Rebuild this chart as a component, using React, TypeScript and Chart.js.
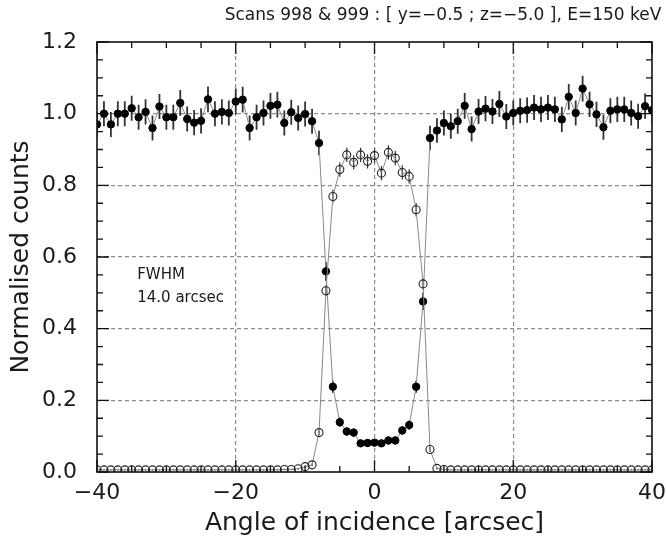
import React, { useEffect, useRef } from 'react';
import { Chart, registerables } from 'chart.js';

Chart.register(...registerables);

// ---------------- data ----------------
const angles = [
  -40, -39, -38, -37, -36, -35, -34, -33, -32, -31,
  -30, -29, -28, -27, -26, -25, -24, -23, -22, -21,
  -20, -19, -18, -17, -16, -15, -14, -13, -12, -11,
  -10, -9, -8, -7, -6, -5, -4, -3, -2, -1,
  0, 1, 2, 3, 4, 5, 6, 7, 8, 9,
  10, 11, 12, 13, 14, 15, 16, 17, 18, 19,
  20, 21, 22, 23, 24, 25, 26, 27, 28, 29,
  30, 31, 32, 33, 34, 35, 36, 37, 38, 39, 40,
];

// filled circles (scan 998)
const filledCounts = [
  0.97, 1.0, 0.97, 1.0, 1.0, 1.015, 0.99, 1.005, 0.96, 1.02,
  0.99, 0.99, 1.03, 0.985, 0.975, 0.98, 1.04, 1.0, 1.005, 1.002,
  1.034, 1.039, 0.96, 0.99, 1.002, 1.022, 1.025, 0.974, 1.004, 0.988,
  0.999, 0.979, 0.918, 0.56, 0.238, 0.139, 0.113, 0.11, 0.08, 0.081,
  0.082, 0.08, 0.088, 0.088, 0.116, 0.131, 0.238, 0.476, 0.932, 0.953,
  0.974, 0.965, 0.979, 1.022, 0.957, 1.006, 1.014, 1.006, 1.027, 0.992,
  1.002, 1.008, 1.01, 1.017, 1.012, 1.017, 1.012, 0.984, 1.047, 1.002,
  1.07, 1.026, 0.998, 0.962, 1.008, 1.012, 1.012, 1.002, 0.993, 1.021, 1.01,
];
const filledErr = [
  0.035, 0.035, 0.035, 0.035, 0.035, 0.035, 0.035, 0.035, 0.035, 0.035,
  0.035, 0.035, 0.036, 0.035, 0.035, 0.035, 0.036, 0.035, 0.035, 0.035,
  0.036, 0.036, 0.035, 0.035, 0.035, 0.036, 0.036, 0.035, 0.035, 0.035,
  0.035, 0.035, 0.034, 0.026, 0.017, 0.013, 0.012, 0.012, 0.01, 0.01,
  0.01, 0.01, 0.011, 0.011, 0.012, 0.013, 0.017, 0.024, 0.034, 0.034,
  0.035, 0.035, 0.035, 0.036, 0.035, 0.035, 0.035, 0.035, 0.036, 0.035,
  0.035, 0.035, 0.035, 0.035, 0.035, 0.035, 0.035, 0.035, 0.036, 0.035,
  0.036, 0.035, 0.035, 0.035, 0.035, 0.035, 0.035, 0.035, 0.035, 0.035, 0.035,
];

// open circles (scan 999)
const openCounts = [
  0.006, 0.006, 0.006, 0.006, 0.006, 0.006, 0.006, 0.006, 0.006, 0.006,
  0.006, 0.006, 0.006, 0.006, 0.006, 0.006, 0.006, 0.006, 0.006, 0.006,
  0.006, 0.006, 0.006, 0.006, 0.006, 0.006, 0.006, 0.007, 0.007, 0.009,
  0.015, 0.02, 0.11, 0.506, 0.769, 0.844, 0.885, 0.864, 0.885, 0.867,
  0.883, 0.834, 0.892, 0.876, 0.836, 0.825, 0.732, 0.525, 0.063, 0.01,
  0.007, 0.006, 0.006, 0.006, 0.006, 0.006, 0.006, 0.006, 0.006, 0.006,
  0.006, 0.006, 0.006, 0.006, 0.006, 0.006, 0.006, 0.006, 0.006, 0.006,
  0.006, 0.006, 0.006, 0.006, 0.006, 0.006, 0.006, 0.006, 0.006, 0.006, 0.006,
];
const openErr = [
  0.002, 0.002, 0.002, 0.002, 0.002, 0.002, 0.002, 0.002, 0.002, 0.002,
  0.002, 0.002, 0.002, 0.002, 0.002, 0.002, 0.002, 0.002, 0.002, 0.002,
  0.002, 0.002, 0.002, 0.002, 0.002, 0.002, 0.002, 0.002, 0.002, 0.003,
  0.004, 0.004, 0.008, 0.015, 0.019, 0.02, 0.02, 0.02, 0.02, 0.02,
  0.02, 0.02, 0.02, 0.02, 0.02, 0.02, 0.019, 0.015, 0.007, 0.003,
  0.002, 0.002, 0.002, 0.002, 0.002, 0.002, 0.002, 0.002, 0.002, 0.002,
  0.002, 0.002, 0.002, 0.002, 0.002, 0.002, 0.002, 0.002, 0.002, 0.002,
  0.002, 0.002, 0.002, 0.002, 0.002, 0.002, 0.002, 0.002, 0.002, 0.002, 0.002,
];

const xMajorTicks = [-40, -20, 0, 20, 40];
const yMajorTicks = [0.0, 0.2, 0.4, 0.6, 0.8, 1.0, 1.2];
const titleText = 'Scans 998 & 999 : [ y=\u22120.5 ; z=\u22125.0 ], E=150 keV';
const xAxisTitle = 'Angle of incidence [arcsec]';
const yAxisTitle = 'Normalised counts';
const noteLines = ['FWHM', '14.0 arcsec'];
const notePos = { x: -34.2, y: [0.55, 0.485] };

const FONT = "'DejaVu Sans', sans-serif";
const TEXT = '#1a1a1a';

const isMajorX = (v: number) => xMajorTicks.some((t) => Math.abs(t - v) < 1e-6);
const isMajorY = (v: number) => yMajorTicks.some((t) => Math.abs(t - v) < 1e-6);
const fmtNum = (v: number, d: number) => (v < 0 ? '\u2212' + Math.abs(v).toFixed(d) : v.toFixed(d));

const errorBarPlugin = {
  id: 'errorBars',
  beforeDatasetsDraw(chart: any) {
    const { ctx, chartArea, scales } = chart;
    const x = scales.x;
    const y = scales.y;
    ctx.save();
    ctx.beginPath();
    ctx.rect(chartArea.left, chartArea.top, chartArea.right - chartArea.left, chartArea.bottom - chartArea.top);
    ctx.clip();
    const draw = (vals: number[], errs: number[], color: string, w: number) => {
      ctx.strokeStyle = color;
      ctx.lineWidth = w;
      ctx.beginPath();
      angles.forEach((a, i) => {
        const px = x.getPixelForValue(a);
        ctx.moveTo(px, y.getPixelForValue(vals[i] - errs[i]));
        ctx.lineTo(px, y.getPixelForValue(vals[i] + errs[i]));
      });
      ctx.stroke();
    };
    draw(filledCounts, filledErr, '#333', 1.8);
    draw(openCounts, openErr, '#333', 1.2);
    ctx.restore();
  },
};

const framePlugin = {
  id: 'frameTicks',
  afterDatasetsDraw(chart: any) {
    const { ctx, chartArea, scales } = chart;
    const x = scales.x;
    const y = scales.y;
    const { left, right, top, bottom } = chartArea;
    ctx.save();
    ctx.strokeStyle = '#111';
    ctx.lineWidth = 1.6;
    ctx.strokeRect(left, top, right - left, bottom - top);
    ctx.lineWidth = 1.3;
    ctx.beginPath();
    for (let v = -40; v <= 40; v += 5) {
      const px = x.getPixelForValue(v);
      const len = isMajorX(v) ? 12 : 6;
      ctx.moveTo(px, bottom);
      ctx.lineTo(px, bottom - len);
      ctx.moveTo(px, top);
      ctx.lineTo(px, top + len);
    }
    for (let k = 0; k <= 24; k++) {
      const v = k * 0.05;
      const py = y.getPixelForValue(v);
      const len = k % 4 === 0 ? 12 : 6;
      ctx.moveTo(left, py);
      ctx.lineTo(left + len, py);
      ctx.moveTo(right, py);
      ctx.lineTo(right - len, py);
    }
    ctx.stroke();
    ctx.restore();
  },
};

const textPlugin = {
  id: 'texts',
  afterDraw(chart: any) {
    const { ctx, scales } = chart;
    ctx.save();
    ctx.fillStyle = TEXT;
    ctx.font = `17px ${FONT}`;
    ctx.textAlign = 'center';
    ctx.textBaseline = 'middle';
    ctx.fillText(titleText, 443, 16);
    ctx.font = `15px ${FONT}`;
    ctx.textAlign = 'left';
    noteLines.forEach((t, i) => {
      ctx.fillText(t, scales.x.getPixelForValue(notePos.x), scales.y.getPixelForValue(notePos.y[i]));
    });
    ctx.restore();
  },
};

export default function App() {
  const ref = useRef<HTMLCanvasElement | null>(null);
  useEffect(() => {
    if (!ref.current) return;
    const chart = new Chart(ref.current, {
      type: 'scatter',
      data: {
        datasets: [
          {
            label: 'open',
            data: angles.map((a, i) => ({ x: a, y: openCounts[i] })),
            showLine: true,
            borderColor: '#8a8a8a',
            borderWidth: 1,
            pointRadius: 4,
            pointBorderWidth: 1.1,
            pointBorderColor: '#222',
            pointBackgroundColor: 'rgba(255,255,255,0)',
            clip: 0,
          } as any,
          {
            label: 'filled',
            data: angles.map((a, i) => ({ x: a, y: filledCounts[i] })),
            showLine: true,
            borderColor: '#8a8a8a',
            borderWidth: 1,
            pointRadius: 3.7,
            pointBorderWidth: 1,
            pointBorderColor: '#000',
            pointBackgroundColor: '#000',
            clip: 0,
          } as any,
        ],
      },
      options: {
        responsive: false,
        animation: false,
        events: [],
        layout: { padding: { top: 42, right: 14, bottom: 0, left: 0 } },
        plugins: { legend: { display: false }, tooltip: { enabled: false }, title: { display: false } },
        scales: {
          x: {
            type: 'linear',
            min: -40,
            max: 40,
            afterFit: (s: any) => {
              s.height = 71;
              s.paddingLeft = 0;
              s.paddingRight = 0;
            },
            ticks: {
              stepSize: 5,
              autoSkip: false,
              maxRotation: 0,
              padding: 8,
              color: TEXT,
              font: { family: FONT, size: 22 },
              callback: (v: any) => (isMajorX(Number(v)) ? fmtNum(Number(v), 0) : ''),
            },
            grid: {
              drawTicks: false,
              lineWidth: 1.2,
              color: (c: any) => {
                const v = c.tick ? c.tick.value : NaN;
                return isMajorX(v) && Math.abs(v) < 39 ? '#8c8c8c' : 'rgba(0,0,0,0)';
              },
            },
            border: { display: false, dash: [4, 3] },
            title: {
              display: true,
              text: xAxisTitle,
              color: TEXT,
              font: { family: FONT, size: 25 },
              padding: { top: 0, bottom: 5 },
            },
          },
          y: {
            type: 'linear',
            min: 0,
            max: 1.2,
            afterFit: (s: any) => {
              s.width = 97;
              s.paddingTop = 0;
              s.paddingBottom = 0;
            },
            ticks: {
              stepSize: 0.05,
              autoSkip: false,
              padding: 20,
              color: TEXT,
              font: { family: FONT, size: 22 },
              callback: (v: any) => (isMajorY(Number(v)) ? Number(v).toFixed(1) : ''),
            },
            grid: {
              drawTicks: false,
              lineWidth: 1.2,
              color: (c: any) => {
                const v = c.tick ? c.tick.value : NaN;
                return isMajorY(v) && v > 0.01 && v < 1.19 ? '#8c8c8c' : 'rgba(0,0,0,0)';
              },
            },
            border: { display: false, dash: [4, 3] },
            title: {
              display: true,
              text: yAxisTitle,
              color: TEXT,
              font: { family: FONT, size: 25 },
              padding: { top: 6, bottom: 0 },
            },
          },
        },
      } as any,
      plugins: [errorBarPlugin, framePlugin, textPlugin],
    });
    return () => chart.destroy();
  }, []);
  return (
    <div style={{ position: 'absolute', left: 0, top: 0, width: 666, height: 543, background: '#fff' }}>
      <canvas ref={ref} width={666} height={543} style={{ width: '666px', height: '543px', display: 'block' }} />
    </div>
  );
}
